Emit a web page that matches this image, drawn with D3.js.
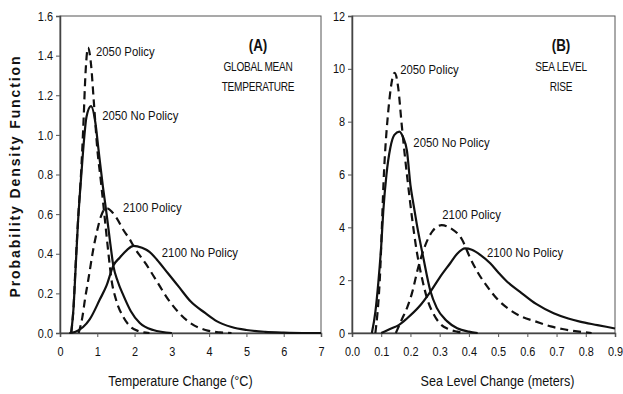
<!DOCTYPE html>
<html>
<head>
<meta charset="utf-8">
<script src="https://cdn.jsdelivr.net/npm/d3@7"></script>
<style>
  body { margin: 0; background: #fff; }
  text { fill: #111; }
</style>
</head>
<body>
<div id="chart"></div>
<script>
// Valeurs : [x, densité]
const temp2050Policy = [[0.3,0],[0.36,0.12],[0.42,0.35],[0.5,0.62],[0.56,0.79],[0.62,1.02],[0.69,1.33],[0.75,1.44],[0.83,1.36],[0.91,1.16],[1.0,0.93],[1.1,0.76],[1.2,0.58],[1.3,0.4],[1.38,0.27],[1.5,0.17],[1.7,0.08],[1.9,0.03],[2.1,0.01],[2.4,0]];
const temp2050NoPolicy = [[0.3,0],[0.36,0.12],[0.42,0.33],[0.48,0.55],[0.54,0.72],[0.62,0.92],[0.71,1.09],[0.83,1.145],[0.95,1.06],[1.03,0.93],[1.15,0.74],[1.25,0.6],[1.35,0.45],[1.43,0.34],[1.55,0.26],[1.7,0.19],[1.9,0.11],[2.14,0.05],[2.5,0.015],[3.0,0]];
const temp2100Policy = [[0.5,0],[0.6,0.08],[0.67,0.17],[0.76,0.27],[0.89,0.42],[1.0,0.52],[1.1,0.59],[1.25,0.63],[1.4,0.61],[1.52,0.58],[1.7,0.52],[1.88,0.47],[2.0,0.43],[2.3,0.35],[2.6,0.26],[2.9,0.17],[3.2,0.1],[3.5,0.05],[3.9,0.015],[4.3,0.003],[4.6,0]];
const temp2100NoPolicy = [[0.25,0],[0.4,0.005],[0.62,0.03],[0.8,0.07],[1.07,0.17],[1.25,0.24],[1.43,0.34],[1.6,0.38],[1.8,0.42],[1.97,0.44],[2.2,0.43],[2.4,0.41],[2.6,0.37],[2.9,0.3],[3.2,0.23],[3.5,0.16],[3.9,0.1],[4.2,0.06],[4.6,0.03],[5.0,0.015],[5.5,0.006],[6.0,0.002],[6.5,0],[7,0]];

const sea2050Policy = [[0.08,0],[0.095,2],[0.11,6.2],[0.125,8.5],[0.146,9.85],[0.158,9.3],[0.17,7.9],[0.18,6.8],[0.19,5.8],[0.205,4.4],[0.22,3.2],[0.239,2.1],[0.26,1.2],[0.28,0.7],[0.3,0.37],[0.33,0.15],[0.36,0.05],[0.38,0]];
const sea2050NoPolicy = [[0.068,0],[0.08,0.8],[0.09,1.9],[0.1,3.3],[0.107,4.6],[0.118,6.0],[0.131,7.0],[0.145,7.5],[0.162,7.62],[0.175,7.4],[0.188,6.9],[0.2,5.6],[0.21,4.9],[0.222,4.1],[0.245,2.8],[0.268,1.6],[0.29,0.95],[0.325,0.45],[0.36,0.18],[0.4,0.05],[0.43,0]];
const sea2100Policy = [[0.15,0],[0.17,0.5],[0.19,1.0],[0.205,1.5],[0.227,2.5],[0.25,3.3],[0.275,3.85],[0.307,4.08],[0.34,3.95],[0.376,3.55],[0.404,2.85],[0.43,2.3],[0.46,1.8],[0.5,1.25],[0.54,0.88],[0.58,0.62],[0.63,0.43],[0.68,0.25],[0.72,0.15],[0.77,0.06],[0.82,0]];
const sea2100NoPolicy = [[0.1,0],[0.13,0.15],[0.16,0.3],[0.188,0.55],[0.23,1.0],[0.268,1.56],[0.3,2.1],[0.336,2.64],[0.36,3.0],[0.387,3.2],[0.41,3.15],[0.44,2.95],[0.473,2.64],[0.5,2.3],[0.53,1.95],[0.575,1.56],[0.63,1.1],[0.69,0.75],[0.74,0.55],[0.78,0.43],[0.84,0.3],[0.9,0.17]];

// Graduations
const tempXTicks = [0, 1, 2, 3, 4, 5, 6, 7];
const tempYTicks = [0, 0.2, 0.4, 0.6, 0.8, 1.0, 1.2, 1.4, 1.6];
const seaXTicks = [0, 0.1, 0.2, 0.3, 0.4, 0.5, 0.6, 0.7, 0.8, 0.9];
const seaYTicks = [0, 2, 4, 6, 8, 10, 12];

// Étiquettes des courbes [texte, x, y]
const tempLabels = [["2050 Policy", 0.965, 1.40], ["2050 No Policy", 1.13, 1.075], ["2100 Policy", 1.69, 0.61], ["2100 No Policy", 2.73, 0.384]];
const seaLabels = [["2050 Policy", 0.165, 9.8], ["2050 No Policy", 0.21, 7.04], ["2100 Policy", 0.309, 4.31], ["2100 No Policy", 0.462, 2.88]];

const W = 623, H = 394;
const plotTop = 16, plotBottom = 333;
const font = "'Liberation Sans', Arial, sans-serif";
const squeeze = 0.84; // police étroite simulée

const svg = d3.select("#chart").append("svg")
  .attr("width", W).attr("height", H);

// texte condensé horizontalement
function narrowText(g, x, y, txt, size, anchor) {
  return g.append("text")
    .attr("transform", `translate(${x},${y}) scale(${squeeze},1)`)
    .attr("text-anchor", anchor || "start")
    .attr("font-family", font).attr("font-size", size)
    .text(txt);
}

function panel(opts) {
  const x = d3.scaleLinear().domain(opts.xDomain).range([opts.left, opts.right]);
  const y = d3.scaleLinear().domain(opts.yDomain).range([plotBottom, plotTop]);
  const g = svg.append("g");

  // cadre
  g.append("rect")
    .attr("x", opts.left).attr("y", plotTop)
    .attr("width", opts.right - opts.left).attr("height", plotBottom - plotTop)
    .attr("fill", "none").attr("stroke", "#555").attr("stroke-width", 1);

  const xAxis = g.append("g").attr("transform", `translate(0,${plotBottom})`)
    .call(d3.axisBottom(x).tickValues(opts.xTicks).tickSize(4).tickFormat(opts.xFormat));
  const yAxis = g.append("g").attr("transform", `translate(${opts.left},0)`)
    .call(d3.axisLeft(y).tickValues(opts.yTicks).tickSize(4).tickFormat(opts.yFormat));
  [xAxis, yAxis].forEach(a => {
    a.select(".domain").attr("stroke", "#444").attr("stroke-width", 1.5);
    a.selectAll(".tick line").attr("stroke", "#555");
    a.selectAll(".tick text").attr("font-family", font).attr("font-size", 13).attr("fill", "#111")
      .attr("transform", `scale(${squeeze},1)`);
  });
  xAxis.selectAll(".tick text").attr("dy", "1.2em");
  yAxis.selectAll(".tick text").attr("dx", "-0.1em");

  const line = d3.line().x(d => x(d[0])).y(d => y(d[1])).curve(d3.curveMonotoneX);
  opts.series.forEach(s => {
    g.append("path").datum(s.values)
      .attr("d", line)
      .attr("fill", "none")
      .attr("stroke", "#111")
      .attr("stroke-width", 2.2)
      .attr("stroke-dasharray", s.dashed ? "8,5" : null);
  });

  opts.labels.forEach(d => narrowText(g, x(d[1]), y(d[2]), d[0], 13.5));

  const cx = opts.titleX;
  narrowText(g, cx, 51, opts.title[0], 16, "middle").attr("font-weight", "bold");
  narrowText(g, cx, 71, opts.title[1], 12, "middle").attr("letter-spacing", -0.3);
  narrowText(g, cx, 91, opts.title[2], 12, "middle").attr("letter-spacing", -0.3);

  narrowText(g, (opts.left + opts.right) / 2 + opts.xTitleShift, 386, opts.xTitle, 15, "middle");
}

panel({
  left: 60, right: 321,
  xDomain: [0, 7], yDomain: [0, 1.6],
  xTicks: tempXTicks, yTicks: tempYTicks,
  xFormat: d3.format("d"), yFormat: d3.format(".1f"),
  series: [
    { values: temp2050Policy, dashed: true },
    { values: temp2050NoPolicy, dashed: false },
    { values: temp2100Policy, dashed: true },
    { values: temp2100NoPolicy, dashed: false }
  ],
  labels: tempLabels,
  title: ["(A)", "GLOBAL MEAN", "TEMPERATURE"], titleX: 258,
  xTitle: "Temperature Change (°C)", xTitleShift: -10
});

panel({
  left: 352, right: 615,
  xDomain: [0, 0.9], yDomain: [0, 12],
  xTicks: seaXTicks, yTicks: seaYTicks,
  xFormat: d3.format(".1f"), yFormat: d3.format("d"),
  series: [
    { values: sea2050Policy, dashed: true },
    { values: sea2050NoPolicy, dashed: false },
    { values: sea2100Policy, dashed: true },
    { values: sea2100NoPolicy, dashed: false }
  ],
  labels: seaLabels,
  title: ["(B)", "SEA LEVEL", "RISE"], titleX: 561,
  xTitle: "Sea Level Change (meters)", xTitleShift: 14
});

// titre de l'axe vertical
svg.append("text")
  .attr("transform", "translate(20,176) rotate(-90)")
  .attr("text-anchor", "middle")
  .attr("font-family", font)
  .attr("font-size", 14).attr("font-weight", "bold")
  .attr("letter-spacing", 1.9)
  .text("Probability Density Function");
</script>
</body>
</html>
